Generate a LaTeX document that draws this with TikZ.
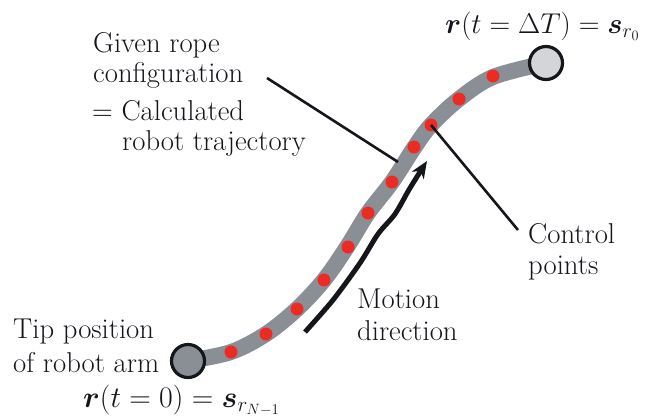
\RequirePackage{fix-cm}
\documentclass[tikz,border=0pt]{standalone}
\usepackage{amsmath,bm}
\usetikzlibrary{arrows.meta}
\definecolor{ropegray}{RGB}{138,143,150}
\definecolor{endgray}{RGB}{212,213,217}
\definecolor{dotred}{RGB}{236,44,36}
\definecolor{txt}{RGB}{20,22,28}
\begin{document}
\begin{tikzpicture}[x=1bp,y=-1bp,
  lbl/.style={anchor=base west, inner sep=0pt, font=\rmfamily\fontsize{28.8}{34}\selectfont, text=txt},
  dot/.style={circle, fill=dotred, minimum size=13bp, inner sep=0pt},
  endpt/.style={circle, draw=txt, line width=3.2bp, minimum size=33bp, inner sep=0pt},
  leader/.style={line width=2.6bp, draw=txt},
  motion/.style={line width=5bp, draw=txt, -{Stealth[length=17bp,width=14bp,inset=5bp]}},
]
\useasboundingbox (0,0) rectangle (647,418);
% rope
\draw[line width=16bp, ropegray] plot[smooth, tension=0.55] coordinates
  {(188,361) (231,352) (266,334) (297,309) (324,280) (347,247) (368,213) (392,182) (414,148) (431,125) (459,99) (493,77) (546,63)};
% end points
\node[endpt, fill=ropegray] (tip) at (188,361) {};
\node[endpt, fill=endgray] (goal) at (546,63) {};
% control points
\node[dot] (d1) at (231,352) {};
\node[dot] (d2) at (266,334) {};
\node[dot] (d3) at (297,309) {};
\node[dot] (d4) at (324,280) {};
\node[dot] (d5) at (348,247) {};
\node[dot] (d6) at (368,213) {};
\node[dot] (d7) at (392,182) {};
\node[dot] (d8) at (414,147) {};
\node[dot] (d9) at (431,125) {};
\node[dot] (d10) at (459,99) {};
\node[dot] (d11) at (493,76) {};
% motion arrow
\draw[motion] plot[smooth, tension=0.5] coordinates
  {(305,332) (333,300) (360,263) (378,234) (395,214) (410,188) (427,161)};
% labels
\node[lbl] (given) at (93,52) {Given rope};
\node[lbl] (config) at (93,82) {configuration};
\node[lbl] (calc) at (92,120) {= Calculated};
\node[lbl] (traj) at (122,150) {robot trajectory};
\node[lbl] (tiplbl) at (13,338) {Tip position};
\node[lbl] (armlbl) at (13,372) {of robot arm};
\node[lbl, font=\fontsize{30}{34}\selectfont] (r0) at (83,407) {$\bm{r}(t=0)=\bm{s}_{r_{N-1}}$};
\node[lbl] (rT) at (445,33) {$\bm{r}(t=\Delta T)=\bm{s}_{r_0}$};
\node[lbl] (ctrl) at (528,243) {Control};
\node[lbl] (pts) at (528,274) {points};
\node[lbl] (mot) at (357,308) {Motion};
\node[lbl] (dir) at (357,340) {direction};
% leaders
\coordinate (cA) at (267,78);
\coordinate (ropeA) at (398,162);
\coordinate (cB) at (518,230);
\draw[leader] (cA) -- (ropeA);
\draw[leader] (d9.center) -- (cB);
\end{tikzpicture}
\end{document}
